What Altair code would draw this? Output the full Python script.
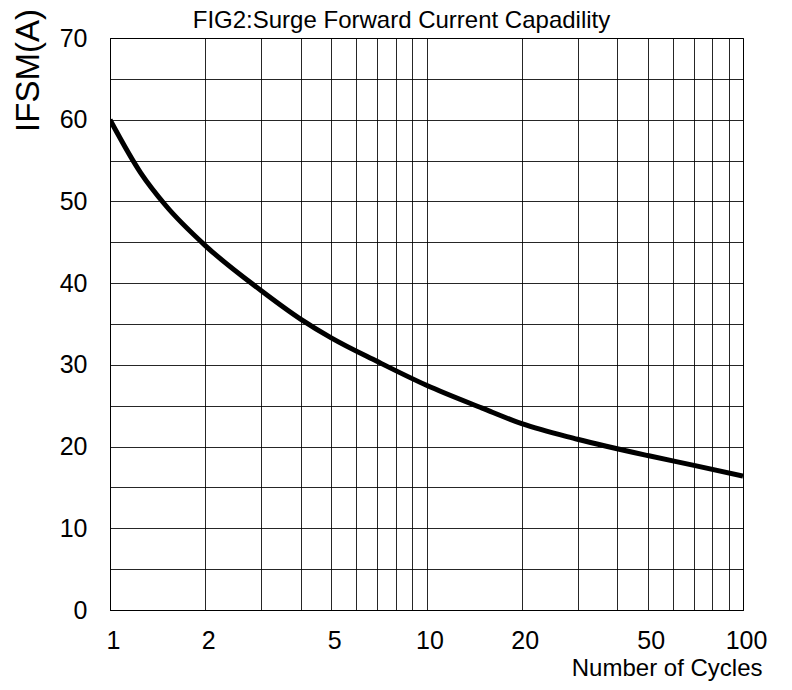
import altair as alt
import pandas as pd

# Curve values
cycles = [1, 1.25, 1.5, 2, 3, 4, 5, 7, 10, 15, 20, 30, 50, 70, 100]
ifsm = [60.0, 53.5, 49.5, 44.6, 39.1, 35.6, 33.3, 30.4, 27.5,
        24.7, 22.8, 20.9, 18.9, 17.7, 16.4]

x_grid = [1, 2, 3, 4, 5, 6, 7, 8, 9, 10, 20, 30, 40, 50, 60, 70, 80, 90, 100]
x_labels = [1, 2, 5, 10, 20, 50, 100]
y_grid = [0, 5, 10, 15, 20, 25, 30, 35, 40, 45, 50, 55, 60, 65, 70]
y_labels = [0, 10, 20, 30, 40, 50, 60, 70]

df = pd.DataFrame({"cycles": cycles, "ifsm": ifsm})

FONT = "Liberation Sans"
x_test = " || ".join(f"datum.value == {v}" for v in x_labels)
y_test = " || ".join(f"datum.value == {v}" for v in y_labels)

chart = alt.Chart(df).mark_line(
    color="black", strokeWidth=5, interpolate="monotone", clip=True
).encode(
    x=alt.X(
        "cycles:Q",
        scale=alt.Scale(type="log", domain=[1, 100], nice=False),
        axis=alt.Axis(
            values=x_grid,
            labelExpr=f"({x_test}) ? format(datum.value, 'd') : ''",
            title="Number of Cycles",
            titleFont=FONT, titleFontSize=24, titleFontWeight="normal",
            titleColor="black", titleAlign="right", titleBaseline="alphabetic",
            titleX=652, titleY=65,
            labelFont=FONT, labelFontSize=25, labelColor="black",
            labelFlush=False, labelBaseline="top", labelPadding=18,
            labelOffset=3,
            ticks=False, tickSize=0,
            grid=True, gridColor="black", gridWidth=1, gridOpacity=0.85,
            domain=True, domainColor="black", domainWidth=1,
        ),
    ),
    y=alt.Y(
        "ifsm:Q",
        scale=alt.Scale(domain=[0, 70], nice=False),
        axis=alt.Axis(
            values=y_grid,
            labelExpr=f"({y_test}) ? format(datum.value, 'd') : ''",
            title="IFSM(A)",
            titleFont=FONT, titleFontSize=33, titleFontWeight="normal",
            titleColor="black", titleAngle=270, titleAlign="center",
            titleBaseline="alphabetic", titleX=-72, titleY=32,
            labelFont=FONT, labelFontSize=25, labelColor="black",
            labelFlush=False, labelBaseline="middle", labelAlign="right",
            labelPadding=23,
            ticks=False, tickSize=0,
            grid=True, gridColor="black", gridWidth=1, gridOpacity=0.85,
            domain=True, domainColor="black", domainWidth=1,
        ),
    ),
).properties(
    width=633,
    height=572,
    title=alt.TitleParams(
        text="FIG2:Surge Forward Current Capadility",
        font=FONT, fontSize=24, fontWeight="normal", color="black",
        anchor="middle", dx=-25, offset=-24,
    ),
    autosize=alt.AutoSizeParams(type="none"),
    padding={"left": 102, "top": 30, "right": 41, "bottom": 71},
).configure_view(stroke="black", strokeWidth=1)

chart.save("out.html", embed_options={"renderer": "svg", "actions": False})
